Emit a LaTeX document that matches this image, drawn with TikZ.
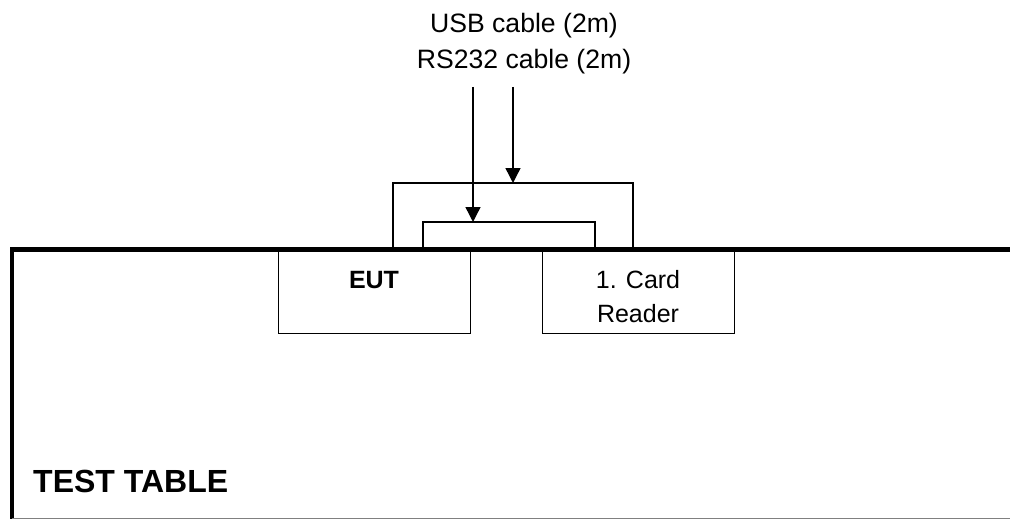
\documentclass[tikz,border=0pt]{standalone}
\usepackage{fontspec}
\setmainfont{Liberation Sans}
\usetikzlibrary{arrows.meta,calc}
\begin{document}
\begin{tikzpicture}[x=1pt,y=-1pt,
  thinline/.style={line width=1.4pt,black},
  device/.style={draw,line width=1.4pt,rectangle,inner sep=0pt,minimum width=192pt,minimum height=82pt},
  lbl/.style={font=\fontsize{25}{35.5}\selectfont,inner sep=0pt},
  toplbl/.style={font=\fontsize{26.6}{35.5}\selectfont,inner sep=0pt},
  cablearrow/.style={thinline,-{Triangle[width=15pt,length=15pt]}}]
\useasboundingbox (0,0) rectangle (1010,519);
% test table
\draw[line width=4.5pt] (12,519) -- (12,249.5) -- (1010,249.5);
\draw[line width=1pt,gray] (12,518) -- (1010,518);
\node[anchor=base west,font=\fontsize{32}{38}\selectfont\bfseries,inner sep=0pt] (table) at (33,492) {TEST TABLE};
% devices
\node[device,anchor=north west] (eut) at (278,251) {};
\node[device,anchor=north west] (card) at (542,251) {};
\node[lbl,font=\fontsize{25}{35.5}\selectfont\bfseries,anchor=base] (euttxt) at (374,288) {EUT};
\node[lbl,anchor=base] (cardtxt1) at (638,288) {1. Card};
\node[lbl,anchor=base] (cardtxt2) at (638,322) {Reader};
% cables between EUT and card reader
\coordinate (o1) at (393,249);
\coordinate (o2) at (633,249);
\coordinate (i1) at (423,249);
\coordinate (i2) at (595,249);
\draw[thinline] (o1) -- (393,183) -- (633,183) -- (o2);
\draw[thinline] (i1) -- (423,222) -- (595,222) -- (i2);
% labels and arrows
\node[toplbl,anchor=base] (usb) at (524,33) {USB cable (2m)};
\node[toplbl,anchor=base] (rs) at (524,69) {RS232 cable (2m)};
\coordinate (a1s) at (473,87);
\coordinate (a1e) at (473,222);
\coordinate (a2s) at (513,87);
\coordinate (a2e) at (513,183);
\draw[cablearrow] (a1s) -- (a1e);
\draw[cablearrow] (a2s) -- (a2e);
\end{tikzpicture}
\end{document}
